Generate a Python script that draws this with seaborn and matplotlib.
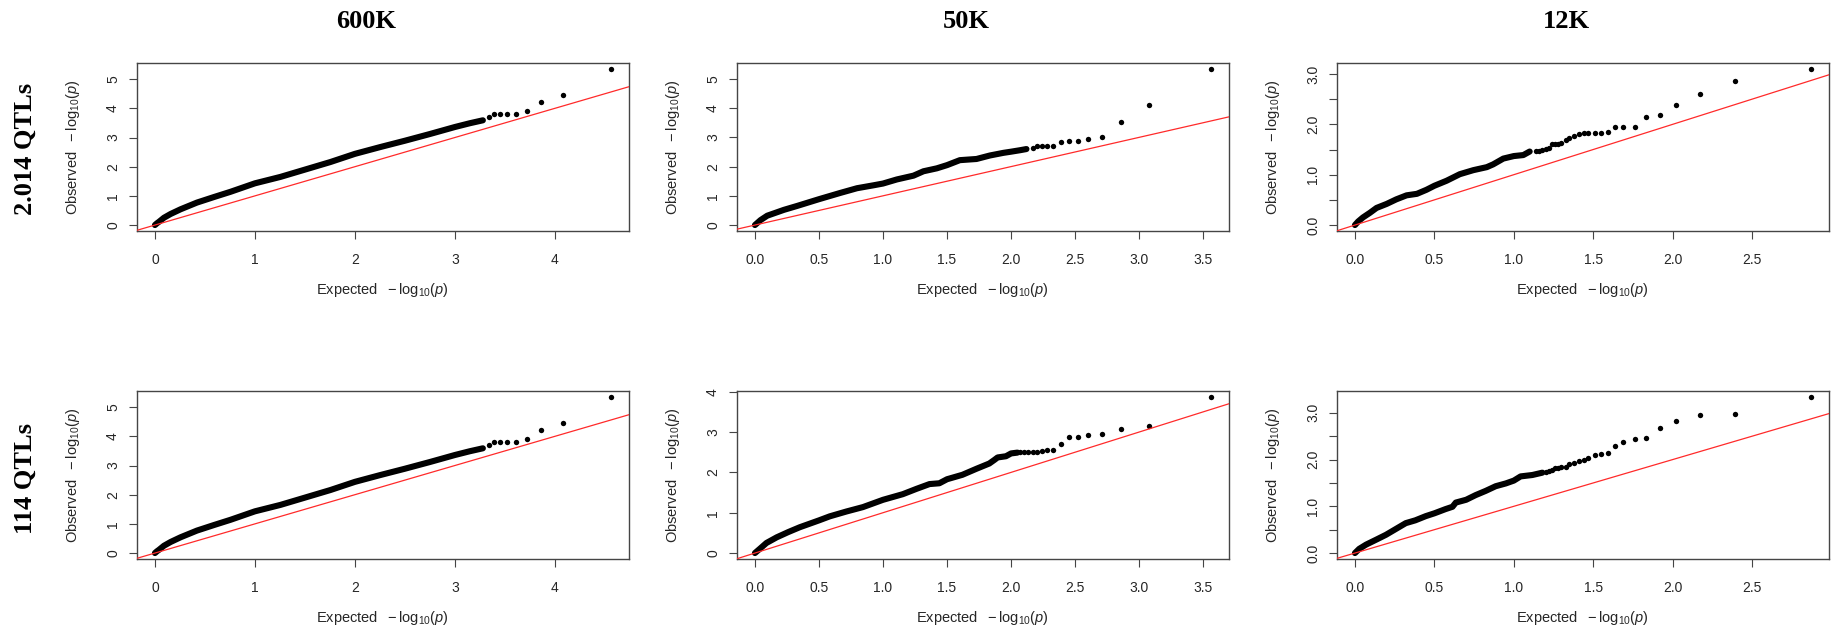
import matplotlib
matplotlib.use("Agg")
import matplotlib.pyplot as plt
import seaborn as sns

# ---------------- data: expected vs observed -log10(p) ----------------
# 600K panel (same in both rows): dense band, then individual top hits
exp_600k_band = [0.0, 0.02, 0.04, 0.09, 0.157, 0.256, 0.42, 0.59, 0.756, 1.0, 1.255,
                 1.5, 1.755, 2.0, 2.25, 2.5, 2.75, 3.0, 3.15, 3.28]
obs_600k_band = [0.0, 0.06, 0.11, 0.25, 0.38, 0.54, 0.77, 0.96, 1.14, 1.43, 1.65,
                 1.90, 2.16, 2.44, 2.67, 2.89, 3.12, 3.36, 3.49, 3.59]
exp_600k_tail = [3.34, 3.39, 3.45, 3.52, 3.61, 3.72, 3.86, 4.08, 4.56]
obs_600k_tail = [3.72, 3.79, 3.81, 3.81, 3.81, 3.90, 4.21, 4.44, 5.35]

# 50K, 2.014 QTLs
exp_50k_a_band = [0.0, 0.044, 0.096, 0.148, 0.226, 0.33, 0.5, 0.667, 0.797, 0.926, 1.0,
                  1.108, 1.238, 1.316, 1.42, 1.5, 1.6, 1.73, 1.835, 1.94, 2.0, 2.07, 2.12]
obs_50k_a_band = [0.0, 0.17, 0.32, 0.40, 0.52, 0.655, 0.885, 1.10, 1.26, 1.36, 1.42,
                  1.56, 1.69, 1.84, 1.94, 2.05, 2.22, 2.26, 2.38, 2.47, 2.51, 2.56, 2.60]
exp_50k_a_tail = [2.17, 2.20, 2.24, 2.28, 2.33, 2.39, 2.45, 2.52, 2.60, 2.71, 2.86, 3.08, 3.56]
obs_50k_a_tail = [2.63, 2.69, 2.72, 2.72, 2.72, 2.85, 2.89, 2.89, 2.94, 3.00, 3.51, 4.10, 5.34]

# 12K, 2.014 QTLs
exp_12k_a_band = [0.0, 0.02, 0.05, 0.095, 0.136, 0.2, 0.26, 0.325, 0.39, 0.45, 0.5,
                  0.577, 0.66, 0.745, 0.83, 0.87, 0.934, 1.0, 1.06, 1.10]
obs_12k_a_band = [0.0, 0.07, 0.15, 0.245, 0.34, 0.42, 0.51, 0.59, 0.62, 0.70, 0.78,
                  0.88, 1.01, 1.09, 1.15, 1.205, 1.32, 1.37, 1.39, 1.46]
exp_12k_a_tail = [1.14, 1.16, 1.18, 1.20, 1.22, 1.24, 1.26, 1.28, 1.30, 1.33, 1.35, 1.38,
                  1.41, 1.44, 1.47, 1.51, 1.55, 1.59, 1.64, 1.69, 1.76, 1.83, 1.92, 2.02,
                  2.17, 2.39, 2.87]
obs_12k_a_tail = [1.47, 1.48, 1.50, 1.52, 1.53, 1.60, 1.61, 1.61, 1.62, 1.68, 1.72, 1.77,
                  1.80, 1.83, 1.83, 1.83, 1.83, 1.85, 1.95, 1.95, 1.95, 2.15, 2.19, 2.38,
                  2.60, 2.87, 3.10]

# 50K, 114 QTLs
exp_50k_b_band = [0.0, 0.04, 0.09, 0.17, 0.26, 0.35, 0.5, 0.584, 0.714, 0.844, 1.0, 1.155,
                  1.26, 1.363, 1.44, 1.5, 1.62, 1.73, 1.83, 1.87, 1.895, 1.96, 2.0, 2.05]
obs_50k_b_band = [0.0, 0.11, 0.25, 0.39, 0.52, 0.64, 0.81, 0.91, 1.03, 1.14, 1.32, 1.46,
                  1.59, 1.71, 1.73, 1.83, 1.94, 2.09, 2.22, 2.31, 2.37, 2.40, 2.47, 2.49]
exp_50k_b_tail = [2.07, 2.10, 2.13, 2.17, 2.20, 2.24, 2.28, 2.33, 2.39, 2.45, 2.52, 2.60,
                  2.71, 2.86, 3.08, 3.56]
obs_50k_b_tail = [2.51, 2.51, 2.51, 2.51, 2.51, 2.53, 2.55, 2.56, 2.70, 2.88, 2.88, 2.93,
                  2.96, 3.08, 3.16, 3.87]

# 12K, 114 QTLs
exp_12k_b_band = [0.0, 0.027, 0.07, 0.13, 0.195, 0.26, 0.32, 0.38, 0.446, 0.5, 0.57, 0.614,
                  0.635, 0.70, 0.76, 0.823, 0.886, 0.95, 1.0, 1.043, 1.117, 1.18]
obs_12k_b_band = [0.0, 0.09, 0.18, 0.28, 0.39, 0.52, 0.64, 0.70, 0.79, 0.85, 0.94, 0.99,
                  1.08, 1.14, 1.24, 1.33, 1.43, 1.49, 1.55, 1.64, 1.67, 1.72]
exp_12k_b_tail = [1.20, 1.22, 1.24, 1.26, 1.28, 1.30, 1.33, 1.35, 1.38, 1.41, 1.44, 1.47,
                  1.51, 1.55, 1.59, 1.64, 1.69, 1.76, 1.83, 1.92, 2.02, 2.17, 2.39, 2.87]
obs_12k_b_tail = [1.74, 1.76, 1.78, 1.81, 1.82, 1.84, 1.85, 1.90, 1.92, 1.97, 2.00, 2.03,
                  2.10, 2.12, 2.14, 2.30, 2.37, 2.45, 2.47, 2.68, 2.82, 2.96, 2.97, 3.34]

# labels
column_titles = ["600K", "50K", "12K"]
row_titles = ["2.014 QTLs", "114 QTLs"]
x_ticks_600k = [0, 1, 2, 3, 4]
x_ticks_50k = [0.0, 0.5, 1.0, 1.5, 2.0, 2.5, 3.0, 3.5]
x_ticks_12k = [0.0, 0.5, 1.0, 1.5, 2.0, 2.5]
y_ticks_5 = [0, 1, 2, 3, 4, 5]
y_ticks_4 = [0, 1, 2, 3, 4]
y_ticks_12k = [0.0, 0.5, 1.0, 1.5, 2.0, 2.5, 3.0]
y_labels_12k = ["0.0", "", "1.0", "", "2.0", "", "3.0"]

# ---------------- style ----------------
sns.set_style("ticks")
plt.rcParams["font.family"] = ["Liberation Sans", "DejaVu Sans"]
plt.rcParams["mathtext.fontset"] = "custom"
plt.rcParams["mathtext.rm"] = "Liberation Sans"
plt.rcParams["mathtext.it"] = "Liberation Sans:italic"
plt.rcParams["mathtext.sf"] = "Liberation Sans"

FRAME = "#454545"
TEXT = "#262626"

W, H = 1832, 633
fig = plt.figure(figsize=(W / 100, H / 100), dpi=100)

col_left = [136.7, 736.7, 1336.7]
box_w = 492.4
row_top = [62.7, 390.7]
box_h = 168.6

panels = [
    [
        (exp_600k_band, obs_600k_band, exp_600k_tail, obs_600k_tail,
         x_ticks_600k, [str(t) for t in x_ticks_600k], y_ticks_5, [str(t) for t in y_ticks_5]),
        (exp_50k_a_band, obs_50k_a_band, exp_50k_a_tail, obs_50k_a_tail,
         x_ticks_50k, [f"{t:.1f}" for t in x_ticks_50k], y_ticks_5, [str(t) for t in y_ticks_5]),
        (exp_12k_a_band, obs_12k_a_band, exp_12k_a_tail, obs_12k_a_tail,
         x_ticks_12k, [f"{t:.1f}" for t in x_ticks_12k], y_ticks_12k, y_labels_12k),
    ],
    [
        (exp_600k_band, obs_600k_band, exp_600k_tail, obs_600k_tail,
         x_ticks_600k, [str(t) for t in x_ticks_600k], y_ticks_5, [str(t) for t in y_ticks_5]),
        (exp_50k_b_band, obs_50k_b_band, exp_50k_b_tail, obs_50k_b_tail,
         x_ticks_50k, [f"{t:.1f}" for t in x_ticks_50k], y_ticks_4, [str(t) for t in y_ticks_4]),
        (exp_12k_b_band, obs_12k_b_band, exp_12k_b_tail, obs_12k_b_tail,
         x_ticks_12k, [f"{t:.1f}" for t in x_ticks_12k], y_ticks_12k, y_labels_12k),
    ],
]

xlabel = r"Expected $\ -\mathrm{log}_{10}(\mathit{p})$"
ylabel = r"Observed $\ -\mathrm{log}_{10}(\mathit{p})$"

for r in range(2):
    for c in range(3):
        bx, by, tx, ty, xt, xtl, yt, ytl = panels[r][c]
        ax = fig.add_axes([col_left[c] / W, 1 - (row_top[r] + box_h) / H,
                           box_w / W, box_h / H])
        # dense region of the Q-Q cloud
        sns.lineplot(x=bx, y=by, ax=ax, color="black", lw=4.4, sort=False,
                     estimator=None, solid_capstyle="round", solid_joinstyle="round")
        # strongest associations, drawn as individual dots
        sns.scatterplot(x=tx, y=ty, ax=ax, color="black", s=15, linewidth=0)
        ax.margins(x=0.04, y=0.04)
        ax.autoscale_view()
        ax.axline((0, 0), slope=1, color="#ff2a2a", lw=0.9, zorder=5)

        ax.set_xticks(xt)
        ax.set_xticklabels(xtl)
        ax.set_yticks(yt)
        ax.set_yticklabels(ytl)
        ax.tick_params(axis="both", direction="out", length=6, width=0.8,
                       color=FRAME, labelsize=10, labelcolor=TEXT)
        ax.tick_params(axis="x", pad=9.5)
        ax.tick_params(axis="y", pad=6, labelrotation=90)
        for lab in ax.get_yticklabels():
            lab.set_va("center")
        for sp in ax.spines.values():
            sp.set_color(FRAME)
            sp.set_linewidth(1.0)
            sp.set_visible(True)

        ax.set_xlabel(xlabel, fontsize=10.5, color=TEXT)
        ax.xaxis.set_label_coords(0.5, -59 / box_h)
        ax.xaxis.label.set_va("center")
        ax.set_ylabel(ylabel, fontsize=10.5, color=TEXT)
        ax.yaxis.set_label_coords(-63.4 / box_w, 0.5)
        ax.yaxis.label.set_va("center")
        ax.yaxis.label.set_ha("center")

title_x = [366, 966, 1566.5]
for c, t in enumerate(column_titles):
    fig.text(title_x[c] / W, 1 - 21.7 / H, t, ha="center", va="center",
             fontsize=19, fontweight="bold", family="Liberation Serif", color="black")

row_y = [149, 478]
for r, t in enumerate(row_titles):
    fig.text(25.5 / W, 1 - row_y[r] / H, t, ha="center", va="center", rotation=90,
             fontsize=19, fontweight="bold", family="Liberation Serif", color="black")

fig.savefig("out.png", dpi=100)
